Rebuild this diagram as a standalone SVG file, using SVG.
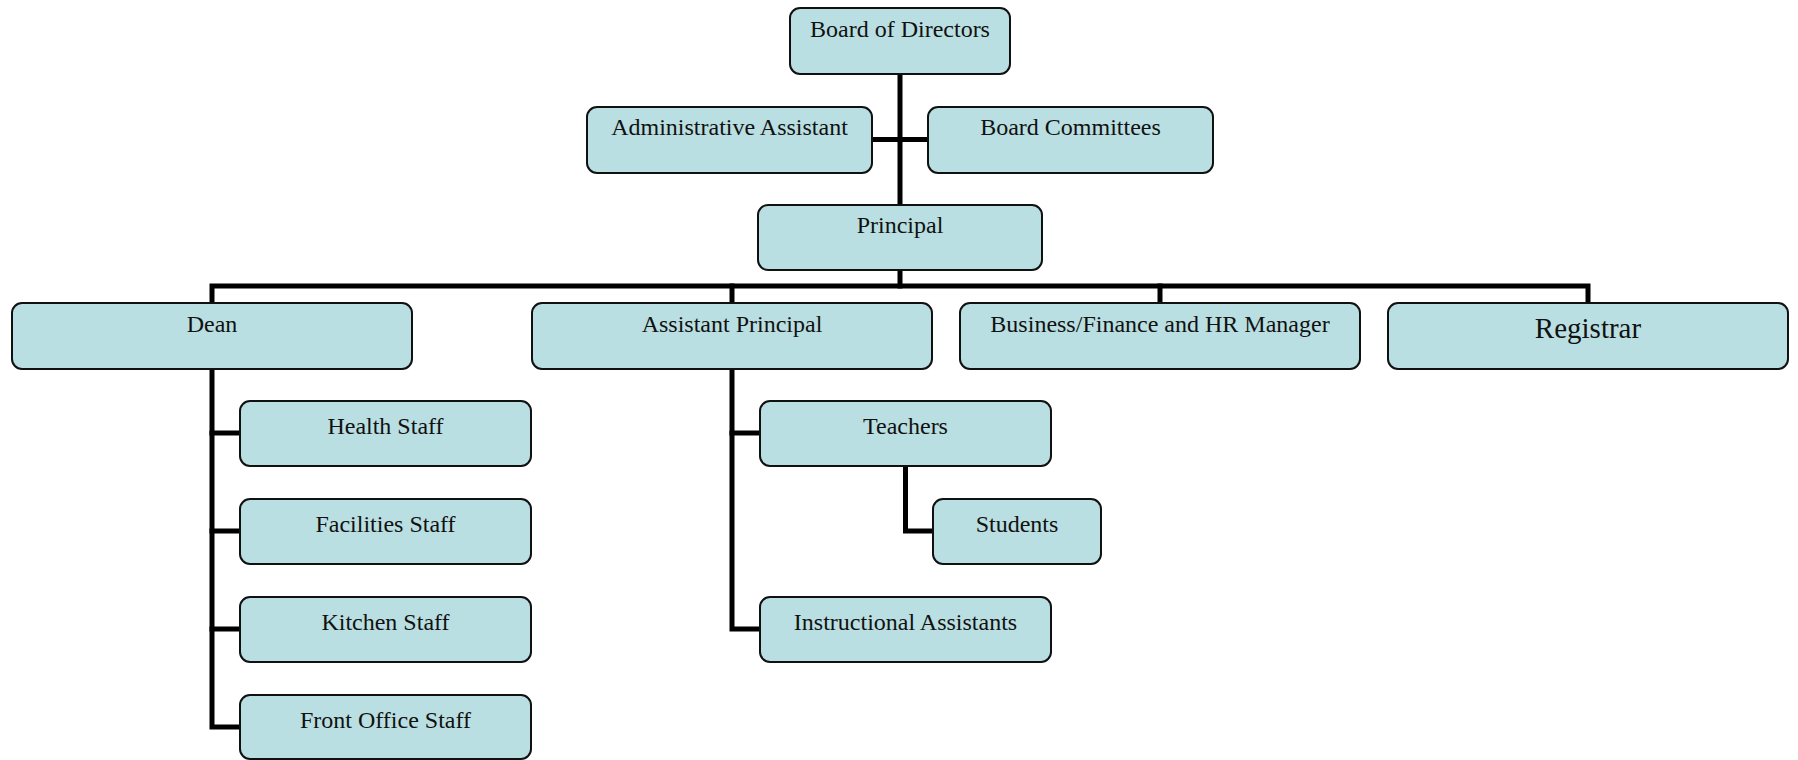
<svg xmlns="http://www.w3.org/2000/svg" width="1798" height="760" viewBox="0 0 1798 760">
<style>
.box{fill:#B9DFE2;stroke:#111;stroke-width:2}
.lbl{font-family:"Liberation Serif","Times New Roman",serif;font-size:24px;fill:#111;text-anchor:middle}
.big{font-size:29px}
.con{fill:none;stroke:#000;stroke-width:5;stroke-linejoin:miter;stroke-linecap:square}
</style>
<rect width="1798" height="760" fill="#fff"/>
<g id="connectors">
<path class="con" d="M900,74 V205"/>
<path class="con" d="M872,139.5 H928"/>
<path class="con" d="M900,270 V286"/>
<path class="con" d="M212,303 V286 H1588 V303"/>
<path class="con" d="M732,286 V303"/>
<path class="con" d="M1160,286 V303"/>
<path class="con" d="M212,369 V727 H240"/>
<path class="con" d="M212,433 H240"/>
<path class="con" d="M212,531 H240"/>
<path class="con" d="M212,629 H240"/>
<path class="con" d="M732,369 V629 H760"/>
<path class="con" d="M732,433 H760"/>
<path class="con" d="M905.5,466 V531 H933"/>
</g>
<g id="board"><rect class="box" x="790" y="8" width="220" height="66" rx="10"/><text class="lbl" x="900" y="37">Board of Directors</text></g>
<g id="admin"><rect class="box" x="587" y="107" width="285" height="66" rx="10"/><text class="lbl" x="729.5" y="135">Administrative Assistant</text></g>
<g id="committees"><rect class="box" x="928" y="107" width="285" height="66" rx="10"/><text class="lbl" x="1070.5" y="135">Board Committees</text></g>
<g id="principal"><rect class="box" x="758" y="205" width="284" height="65" rx="10"/><text class="lbl" x="900" y="233">Principal</text></g>
<g id="dean"><rect class="box" x="12" y="303" width="400" height="66" rx="10"/><text class="lbl" x="212" y="332">Dean</text></g>
<g id="asst-principal"><rect class="box" x="532" y="303" width="400" height="66" rx="10"/><text class="lbl" x="732" y="332">Assistant Principal</text></g>
<g id="business"><rect class="box" x="960" y="303" width="400" height="66" rx="10"/><text class="lbl" x="1160" y="332">Business/Finance and HR Manager</text></g>
<g id="registrar"><rect class="box" x="1388" y="303" width="400" height="66" rx="10"/><text class="lbl big" x="1588" y="338">Registrar</text></g>
<g id="health"><rect class="box" x="240" y="401" width="291" height="65" rx="10"/><text class="lbl" x="385.5" y="434">Health Staff</text></g>
<g id="facilities"><rect class="box" x="240" y="499" width="291" height="65" rx="10"/><text class="lbl" x="385.5" y="532">Facilities Staff</text></g>
<g id="kitchen"><rect class="box" x="240" y="597" width="291" height="65" rx="10"/><text class="lbl" x="385.5" y="630">Kitchen Staff</text></g>
<g id="front-office"><rect class="box" x="240" y="695" width="291" height="64" rx="10"/><text class="lbl" x="385.5" y="728">Front Office Staff</text></g>
<g id="teachers"><rect class="box" x="760" y="401" width="291" height="65" rx="10"/><text class="lbl" x="905.5" y="434">Teachers</text></g>
<g id="students"><rect class="box" x="933" y="499" width="168" height="65" rx="10"/><text class="lbl" x="1017" y="532">Students</text></g>
<g id="instructional"><rect class="box" x="760" y="597" width="291" height="65" rx="10"/><text class="lbl" x="905.5" y="630">Instructional Assistants</text></g>
</svg>
